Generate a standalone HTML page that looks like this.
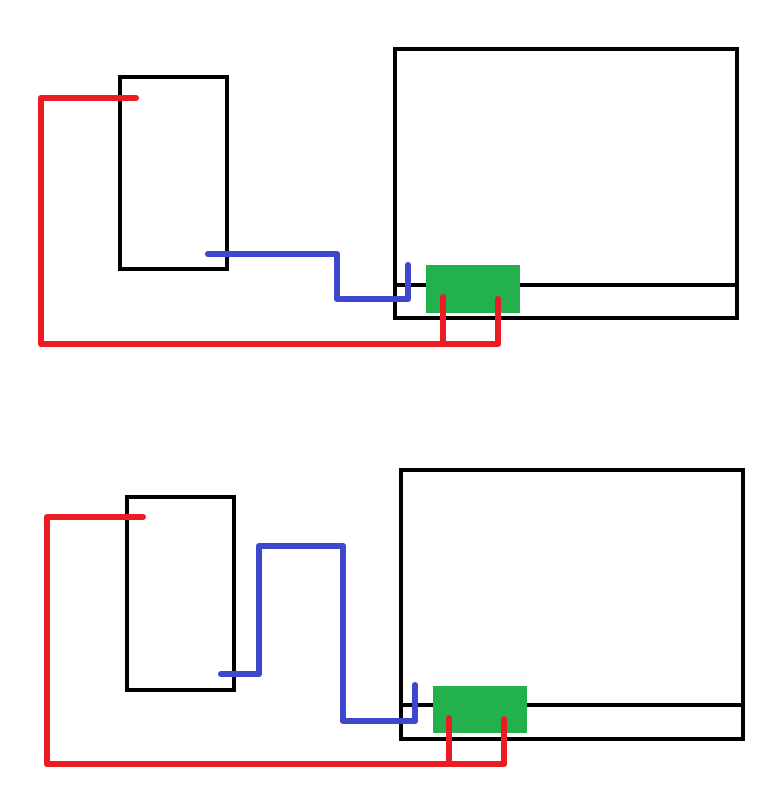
<!DOCTYPE html>
<html><head><meta charset="utf-8"><style>html,body{margin:0;padding:0;background:#fff}svg{display:block}</style></head>
<body>
<svg width="774" height="800" viewBox="0 0 774 800" xmlns="http://www.w3.org/2000/svg">
<g fill="none" stroke="#000" stroke-width="4">
<rect x="120" y="77" width="107" height="192"/>
<rect x="395" y="49" width="342" height="269"/>
<line x1="395" y1="285" x2="737" y2="285"/>
<rect x="127" y="497" width="107" height="193"/>
<rect x="401" y="470" width="342" height="269"/>
<line x1="401" y1="705" x2="743" y2="705"/>
</g>
<rect x="426" y="265" width="94" height="48" fill="#22b14c"/>
<rect x="433" y="686" width="94" height="47" fill="#22b14c"/>
<g fill="none" stroke-width="6" stroke-linecap="round" stroke-linejoin="round">
<polyline stroke="#3f48cc" points="208,254 337,254 337,299 408,299 408,265"/>
<polyline stroke="#ed1c24" points="136,98 41,98 41,344 498,344 498,299"/>
<line stroke="#ed1c24" x1="443" y1="344" x2="443" y2="297"/>
<polyline stroke="#3f48cc" points="221,674 259,674 259,546 343,546 343,721 415,721 415,685"/>
<polyline stroke="#ed1c24" points="143,517 47,517 47,764 504,764 504,719"/>
<line stroke="#ed1c24" x1="449" y1="764" x2="449" y2="718"/>
</g>
</svg>
</body></html>
